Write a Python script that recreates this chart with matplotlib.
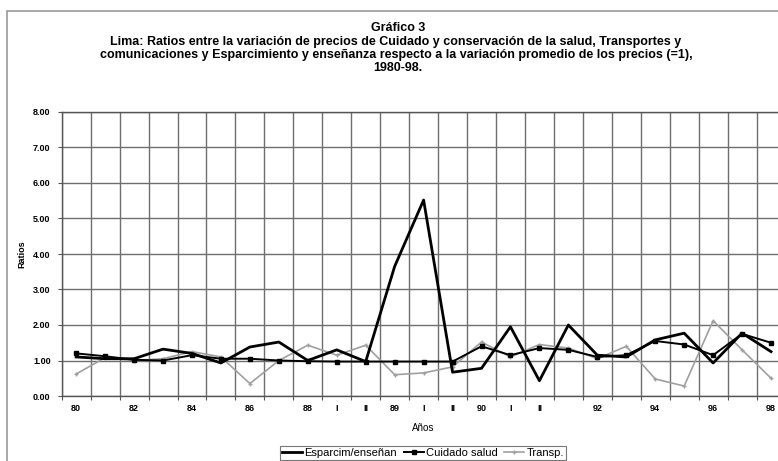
import matplotlib
matplotlib.use("Agg")
import matplotlib.pyplot as plt
from matplotlib.patches import Rectangle

plt.rcParams["font.family"] = ["Liberation Sans", "DejaVu Sans"]

categories = ["80", "", "82", "", "84", "", "86", "", "88", "I", "II", "89", "I", "II",
              "90", "I", "II", "", "92", "", "94", "", "96", "", "98"]
esparcimiento = [1.10, 1.05, 1.05, 1.32, 1.20, 0.93, 1.38, 1.52, 1.00, 1.30, 0.97, 3.65, 5.52,
                 0.67, 0.78, 1.95, 0.43, 2.00, 1.15, 1.10, 1.58, 1.77, 0.93, 1.77, 1.25]
cuidado = [1.20, 1.12, 1.02, 1.00, 1.15, 1.05, 1.05, 1.00, 0.98, 0.97, 0.97, 0.97, 0.97,
           0.97, 1.40, 1.15, 1.35, 1.30, 1.10, 1.15, 1.55, 1.45, 1.15, 1.75, 1.50]
transp = [0.62, 1.08, 1.00, 1.05, 1.25, 1.10, 0.35, 1.00, 1.43, 1.15, 1.43, 0.60, 0.65,
          0.82, 1.52, 1.10, 1.45, 1.35, 1.05, 1.40, 0.48, 0.28, 2.12, 1.30, 0.50]
yticks = [0, 1, 2, 3, 4, 5, 6, 7, 8]

W, H = 778, 461
fig = plt.figure(figsize=(W / 100, H / 100), dpi=100)
fig.patch.set_facecolor("white")

# outer chart frame
fig.patches.append(Rectangle((7 / W, -0.1), 1.2, 1 - 11 / H + 0.1, transform=fig.transFigure,
                             fill=False, edgecolor="#999999", linewidth=1.2))

left, right, top, bottom = 61.7, 785.5, 112, 396
ax = fig.add_axes([left / W, 1 - bottom / H, (right - left) / W, (bottom - top) / H])

x = list(range(len(categories)))
ax.plot(x, esparcimiento, color="black", linewidth=2.0, label="Esparcim/enseñan", zorder=4)
ax.plot(x, cuidado, color="black", linewidth=1.4, marker="s", markersize=2.5,
        label="Cuidado salud", zorder=3)
ax.plot(x, transp, color="#a0a0a0", linewidth=1.2, marker="+", markersize=3,
        label="Transp.", zorder=2)

ax.set_xlim(-0.5, len(categories) - 0.5)
ax.set_ylim(0, 8)
ax.set_yticks(yticks)
ax.set_yticklabels([f"{v:.2f}" for v in yticks], fontsize=6.5, fontweight="bold")
ax.set_xticks(x)
ax.set_xticklabels(categories, fontsize=6.5, fontweight="bold")
ax.set_xticks([i - 0.5 for i in range(len(categories) + 1)], minor=True)
ax.tick_params(axis="x", which="major", length=0, pad=6)
ax.tick_params(axis="x", which="minor", length=3, width=0.8, color="#555555")
ax.tick_params(axis="y", length=3, width=0.8, color="#555555", pad=5)
ax.grid(True, which="minor", axis="x", color="#6e6e6e", linewidth=1.0)
ax.grid(True, which="major", axis="y", color="#6e6e6e", linewidth=1.0)
ax.set_axisbelow(True)
for s in ax.spines.values():
    s.set_color("#555555")
    s.set_linewidth(1.0)

ax.set_ylabel("Ratios", fontsize=6.5, fontweight="bold", labelpad=5)
ax.set_xlabel("Años", fontsize=7, labelpad=7)

tkw = dict(ha="center", va="center", fontsize=9.0, fontweight="bold")
fig.text(398 / W, 1 - 28 / H, "Gráfico 3", **tkw)
fig.text(396 / W, 1 - 42 / H,
         "Lima: Ratios entre la variación de precios de Cuidado y conservación de la salud, Transportes y",
         **tkw)
fig.text(396 / W, 1 - 55 / H,
         "comunicaciones y Esparcimiento y enseñanza respecto a la variación promedio de los precios (=1),",
         **tkw)
fig.text(398 / W, 1 - 68 / H, "1980-98.", **tkw)

leg = fig.legend(loc="center", bbox_to_anchor=(423 / W, 1 - 453 / H), ncol=3, fontsize=8,
                 frameon=True, fancybox=False, edgecolor="#555555", handlelength=1.8,
                 handletextpad=0.2, columnspacing=0.6, borderpad=0.2)
leg.get_frame().set_linewidth(0.8)

fig.savefig("out.png", dpi=100)
